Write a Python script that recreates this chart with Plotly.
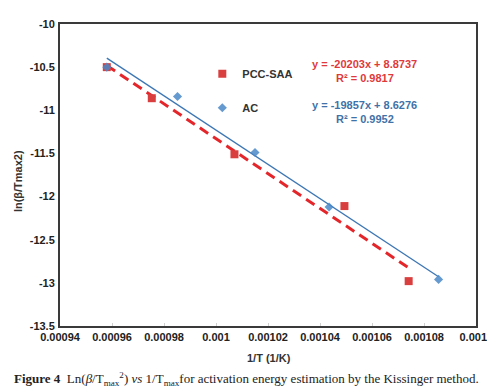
import plotly.graph_objects as go

# ---- data ----
pcc_x = [0.000958, 0.0009753, 0.0010071, 0.0010494, 0.0010741]
pcc_y = [-10.50, -10.86, -11.51, -12.11, -12.98]
ac_x = [0.000958, 0.0009852, 0.0010150, 0.0010435, 0.0010856]
ac_y = [-10.50, -10.84, -11.49, -12.12, -12.96]

pcc_slope, pcc_icpt = -20203.0, 8.8737
ac_slope, ac_icpt = -19857.0, 8.6276

series_names = ["PCC-SAA", "AC"]

x_ticks = [0.00094, 0.00096, 0.00098, 0.001, 0.00102, 0.00104, 0.00106, 0.00108, 0.0011]
x_tick_text = ["0.00094", "0.00096", "0.00098", "0.001", "0.00102", "0.00104", "0.00106", "0.00108", "0.0011"]
y_ticks = [-13.5, -13, -12.5, -12, -11.5, -11, -10.5, -10]
y_tick_text = ["-13.5", "-13", "-12.5", "-12", "-11.5", "-11", "-10.5", "-10"]

RED_M = "#DA3F3F"
RED_L = "#E4262B"
BLUE_M = "#4A88C8"
BLUE_L = "#3C76B4"
RED_T = "#E0393C"
BLUE_T = "#3F72A8"

FONT = "Liberation Sans"

def fit(xs, m, b):
    x0, x1 = min(xs), max(xs)
    return [x0, x1], [m * x0 + b, m * x1 + b]

fig = go.Figure()

tx, ty = fit(pcc_x, pcc_slope, pcc_icpt)
fig.add_trace(go.Scatter(x=tx, y=ty, mode="lines", showlegend=False,
                         line=dict(color=RED_L, width=3, dash="10px,6px")))
tx, ty = fit(ac_x, ac_slope, ac_icpt)
fig.add_trace(go.Scatter(x=tx, y=ty, mode="lines", showlegend=False,
                         line=dict(color=BLUE_L, width=1.3)))

fig.add_trace(go.Scatter(x=pcc_x, y=pcc_y, mode="markers", name="<b>%s</b>" % series_names[0],
                         legendgroup="a",
                         marker=dict(symbol="square", size=8, color=RED_M)))
fig.add_trace(go.Scatter(x=ac_x, y=ac_y, mode="markers", name="<b>%s</b>" % series_names[1],
                         legendgroup="b",
                         marker=dict(symbol="diamond", size=7, color=BLUE_M, opacity=0.85)))

ann = []
def eq(text, y_px, color):
    ann.append(dict(text=text, xref="paper", yref="paper",
                    x=(358 - 52) / 418, y=(318 - y_px) / 308,
                    xanchor="center", yanchor="middle", showarrow=False,
                    font=dict(family=FONT, size=11, color=color)))

eq("<b>y = -20203x + 8.8737</b>", 51, RED_T)
eq("<b>R² = 0.9817</b>", 65, RED_T)
eq("<b>y = -19857x + 8.6276</b>", 93, BLUE_T)
eq("<b>R² = 0.9952</b>", 107, BLUE_T)

ann.append(dict(text="<b>ln(β/Tmax2)</b>", xref="paper", yref="paper",
                x=(10 - 52) / 418, y=(318 - 170) / 308, textangle=-90,
                xanchor="center", yanchor="middle", showarrow=False,
                font=dict(family=FONT, size=11, color="#333333")))
ann.append(dict(text="<b>1/T (1/K)</b>", xref="paper", yref="paper",
                x=(262 - 52) / 418, y=(318 - 351) / 308,
                xanchor="center", yanchor="middle", showarrow=False,
                font=dict(family=FONT, size=11, color="#333333")))
ann.append(dict(text="<b>Figure 4</b>  Ln(<i>β</i>/T<sub>max</sub><sup>2</sup>) <i>vs</i> 1/T<sub>max</sub>for activation energy estimation by the Kissinger method.",
                xref="paper", yref="paper",
                x=(4 - 52) / 418, y=(318 - 372) / 308,
                xanchor="left", yanchor="middle", showarrow=False,
                font=dict(family="Liberation Serif", size=13, color="#222222")))

fig.update_layout(
    width=495, height=388,
    margin=dict(l=52, r=25, t=10, b=70),
    paper_bgcolor="white", plot_bgcolor="white",
    annotations=ann,
    legend=dict(x=(195 - 52) / 418, y=(318 - 46) / 308, xanchor="left", yanchor="top",
                bgcolor="rgba(0,0,0,0)", font=dict(family=FONT, size=11, color="#333333"),
                tracegroupgap=15, itemwidth=30),
    font=dict(family=FONT),
)
fig.update_xaxes(range=[0.00094, 0.0011], tickvals=x_ticks,
                 ticktext=["<b>%s</b>" % t for t in x_tick_text],
                 showgrid=False, zeroline=False,
                 showline=True, linecolor="#3a3a3a", linewidth=2, mirror=True,
                 ticks="inside", ticklen=3, tickcolor="#d0d0d0",
                 tickfont=dict(family=FONT, size=11, color="#222222"))
fig.update_yaxes(range=[-13.5, -10], tickvals=y_ticks,
                 ticktext=["<b>%s</b>" % t for t in y_tick_text],
                 showgrid=False, zeroline=False,
                 showline=True, linecolor="#3a3a3a", linewidth=2, mirror=True,
                 ticks="outside", ticklen=1, tickcolor="rgba(0,0,0,0)",
                 tickfont=dict(family=FONT, size=11, color="#222222"))

fig.write_html("out.html")
